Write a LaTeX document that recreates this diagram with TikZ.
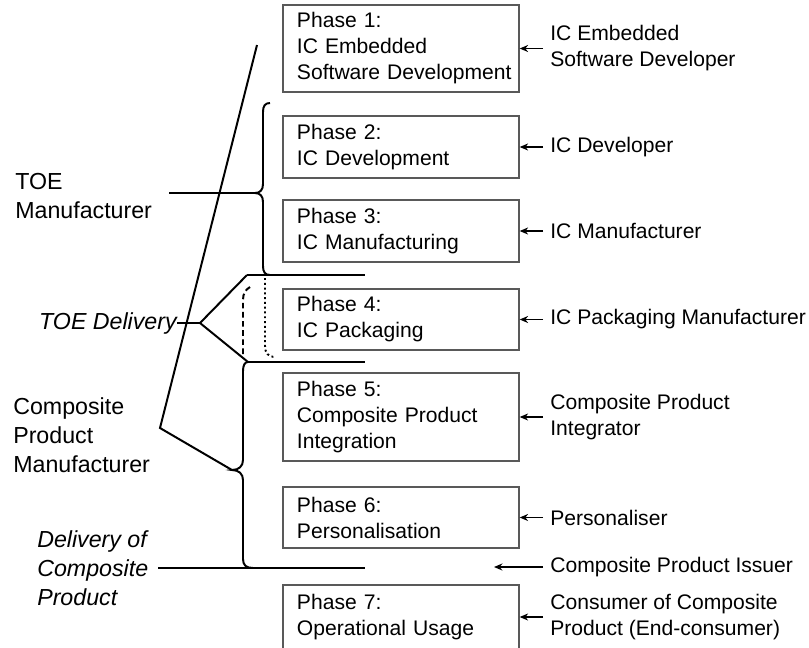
\documentclass[tikz,border=0pt]{standalone}
\usepackage{fontspec}
\setmainfont{Liberation Sans}
\usetikzlibrary{arrows.meta}
\hbadness=10000
\hfuzz=20pt
\tikzset{
	,line width = 0.7pt
	,phasebox/.style = {rectangle, draw=black!65, line width=0.9pt, align=left, text width=5.2cm, inner xsep=0.35cm, font=\fontsize{15pt}{18.5pt}\selectfont}
	,rolenode/.style = {anchor=west, align=left, inner xsep=5pt, inner ysep=0pt, font=\fontsize{15pt}{18.5pt}\selectfont}
	,sidenode/.style = {align=left, inner sep=0pt, font=\fontsize{16.5pt}{20.5pt}\selectfont}
	,sideit/.style   = {sidenode, font=\fontsize{16.5pt}{20.5pt}\selectfont\itshape}
	,edger/.style = {-{Stealth[length=6pt, width=5pt]}, line width=1pt}
	,bar/.style   = {line width=1.4pt}
}
\begin{document}
\begin{tikzpicture}[x=0.025cm, y=-0.025cm]
	\useasboundingbox (0,0) rectangle (809,647);
	% phases
	\node[phasebox, minimum height=2.175cm] at (401,48.5) (p1) {Phase 1:\\IC Embedded\\\mbox{Software Development}};
	\node[phasebox, minimum height=1.55cm]  at (401,147)  (p2) {Phase 2:\\IC Development};
	\node[phasebox, minimum height=1.55cm]  at (401,231)  (p3) {Phase 3:\\IC Manufacturing};
	\node[phasebox, minimum height=1.525cm] at (401,319.5) (p4) {Phase 4:\\IC Packaging};
	\node[phasebox, minimum height=2.2cm]   at (401,417)  (p5) {Phase 5:\\Composite Product\\Integration};
	\node[phasebox, minimum height=1.525cm] at (401,517.5) (p6) {Phase 6:\\Personalisation};
	\node[phasebox, minimum height=1.6cm]   at (401,617)  (p7) {Phase 7:\\Operational Usage};
	% roles
	\node[rolenode] at (543,48.5) (r1) {IC Embedded\\Software Developer};
	\node[rolenode] at (543,147)  (r2) {IC Developer};
	\node[rolenode] at (543,231)  (r3) {IC Manufacturer};
	\node[rolenode] at (543,319.5) (r4) {IC Packaging Manufacturer};
	\node[rolenode] at (543,417)  (r5) {Composite Product\\Integrator};
	\node[rolenode] at (543,517.5) (r6) {Personaliser};
	\node[rolenode] at (543,567)  (iss) {Composite Product Issuer};
	\node[rolenode] at (543,617)  (r7) {Consumer of Composite\\Product (End-consumer)};
	\coordinate (isend) at (494,567);
	\draw[edger] (r1.west) -- (p1.east);
	\draw[edger] (r2.west) -- (p2.east);
	\draw[edger] (r3.west) -- (p3.east);
	\draw[edger] (r4.west) -- (p4.east);
	\draw[edger] (r5.west) -- (p5.east);
	\draw[edger] (r6.west) -- (p6.east);
	\draw[edger] (iss.west) -- (isend);
	\draw[edger] (r7.west) -- (p7.east);
	% left side
	\node[sidenode, anchor=west] at (15,196) (toem) {TOE\\Manufacturer};
	\node[sideit, anchor=east]   at (177,323) (toed) {TOE Delivery};
	\node[sidenode, anchor=west] at (13,435) (cpm) {Composite\\Product\\Manufacturer};
	\node[sideit, anchor=west]   at (37,568) (doc) {Delivery of\\Composite\\Product};
	\coordinate (ut)   at (255,193);
	\coordinate (lt)   at (232,470);
	\coordinate (dv)   at (200,323);
	\coordinate (top)  at (257,45);
	\coordinate (knee) at (160,428);
	\coordinate (h1a)  at (247,275);
	\coordinate (h1b)  at (365,275);
	\coordinate (h2a)  at (248,362);
	\coordinate (h2b)  at (365,362);
	\coordinate (dend) at (365,568);
	\draw[bar] (toem.east |- ut) ++(17,0) -- (ut);
	\draw[bar] (270,103) .. controls (265,103) and (263,106) .. (263,112) -- (263,184)
		.. controls (263,190) and (260,193) .. (ut)
		.. controls (260,193) and (263,196) .. (263,202) -- (263,266)
		.. controls (263,272) and (265,275) .. (270,275);
	\draw[bar] (h1a) -- (h1b);
	\draw[bar] (h2a) -- (h2b);
	\draw[bar] (toed.east) -- (dv);
	\draw[bar] (h1a) -- (dv) -- (h2a);
	\draw[bar, dotted] (265,278) -- (265,346) .. controls (265,353) and (268,357) .. (276,357);
	\draw[bar, dash pattern=on 4pt off 2.5pt] (250,287) .. controls (245,290) and (243,294) .. (243,300) -- (243,356);
	\draw[bar] (h2a) .. controls (245,362) and (243,365) .. (243,371) -- (243,460)
		.. controls (243,466) and (239,470) .. (lt)
		.. controls (239,470) and (243,474) .. (243,480) -- (243,559)
		.. controls (243,565) and (246,568) .. (253,568);
	\draw[bar] (top) -- (knee) -- (lt);
	\draw[bar] (doc.east) ++(10,0) -- (dend);
\end{tikzpicture}
\end{document}
